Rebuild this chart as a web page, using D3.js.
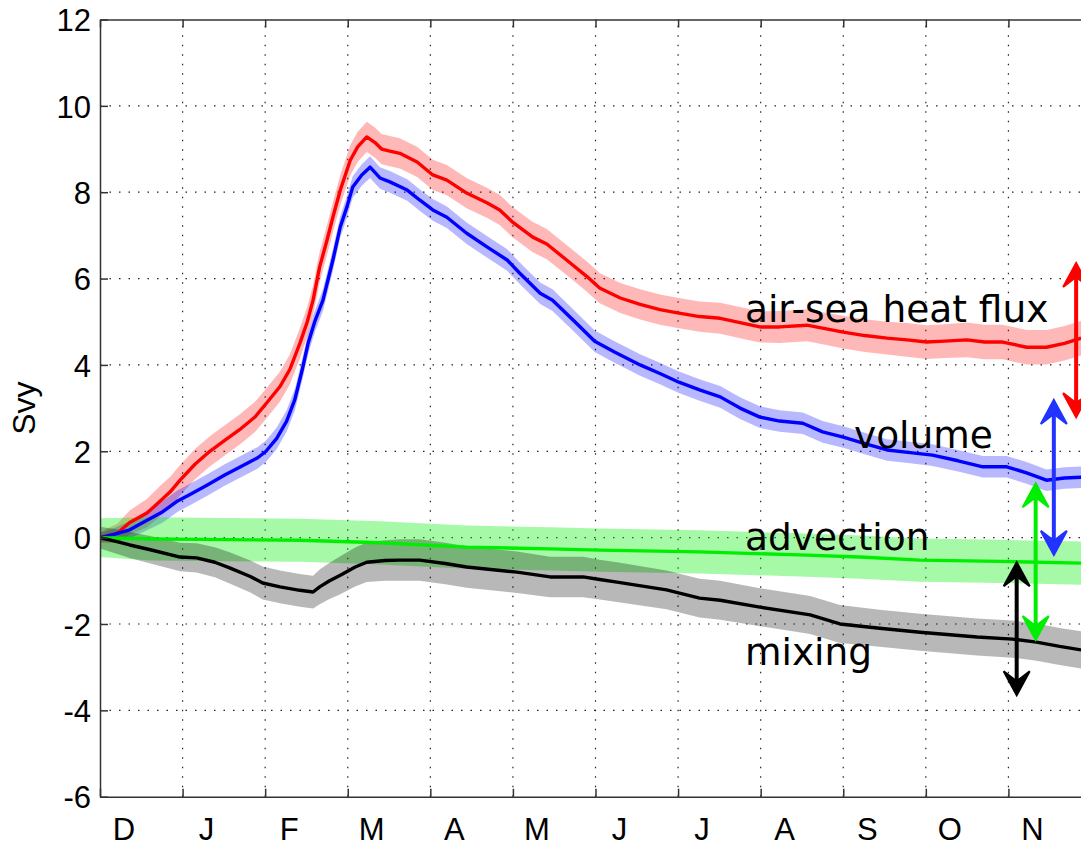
<!DOCTYPE html>
<html>
<head>
<meta charset="utf-8">
<script src="https://cdn.jsdelivr.net/npm/d3@7"></script>
<style>
  body { margin: 0; background: #fff; }
  svg { display: block; }
  .tick text { font-family: "Liberation Sans", Arial, sans-serif; font-size: 31px; fill: #000; }
</style>
</head>
<body>
<script>
var width = 1081;
var height = 847;

// month labels (ticks at the start of each month, x in months since 1 Dec)
var monthLabels = ["D", "J", "F", "M", "A", "M", "J", "J", "A", "S", "O", "N"];
var yTicks = [-6, -4, -2, 0, 2, 4, 6, 8, 10, 12];

// [month, value, half-width of shaded band]  (Svy)
var heatFlux = [
  [0, 0, 0.12], [0.1, 0.05, 0.18], [0.21, 0.1, 0.22], [0.36, 0.35, 0.28], [0.57, 0.57, 0.33],
  [0.73, 0.85, 0.35], [0.85, 1.06, 0.35], [0.97, 1.33, 0.35], [1.15, 1.7, 0.35], [1.33, 2.0, 0.35],
  [1.51, 2.25, 0.35], [1.69, 2.5, 0.35], [1.88, 2.8, 0.35], [2.01, 3.1, 0.35], [2.18, 3.5, 0.35],
  [2.3, 3.9, 0.35], [2.42, 4.5, 0.35], [2.51, 5.0, 0.35], [2.58, 5.5, 0.35], [2.66, 6.27, 0.35],
  [2.75, 6.9, 0.35], [2.82, 7.42, 0.35], [2.91, 8.05, 0.35], [3.03, 8.74, 0.35], [3.12, 9.05, 0.35],
  [3.23, 9.28, 0.35], [3.33, 9.15, 0.35], [3.41, 9.0, 0.35], [3.51, 8.95, 0.35], [3.63, 8.9, 0.35],
  [3.84, 8.7, 0.35], [4.03, 8.4, 0.35], [4.2, 8.28, 0.35], [4.44, 7.98, 0.35], [4.69, 7.75, 0.35],
  [4.84, 7.59, 0.35], [5.0, 7.3, 0.35], [5.24, 6.96, 0.35], [5.41, 6.8, 0.35], [5.65, 6.43, 0.35],
  [5.9, 6.04, 0.35], [6.05, 5.78, 0.35], [6.3, 5.55, 0.35], [6.54, 5.4, 0.35], [6.78, 5.28, 0.35],
  [7.01, 5.2, 0.35], [7.26, 5.12, 0.35], [7.51, 5.08, 0.36], [7.75, 4.98, 0.36], [7.99, 4.88, 0.36],
  [8.23, 4.88, 0.37], [8.56, 4.92, 0.37], [8.78, 4.84, 0.37], [9.0, 4.76, 0.38], [9.26, 4.68, 0.38],
  [9.53, 4.62, 0.38], [9.77, 4.58, 0.39], [10.01, 4.53, 0.39], [10.23, 4.55, 0.39], [10.5, 4.58, 0.4],
  [10.71, 4.53, 0.4], [10.93, 4.53, 0.4], [11.22, 4.41, 0.4], [11.46, 4.41, 0.4], [11.68, 4.5, 0.4],
  [11.88, 4.62, 0.4]
];

var volume = [
  [0, 0, 0.1], [0.18, 0.08, 0.15], [0.36, 0.18, 0.2], [0.57, 0.4, 0.23], [0.76, 0.6, 0.25],
  [0.94, 0.85, 0.25], [1.09, 1.0, 0.25], [1.3, 1.22, 0.25], [1.51, 1.45, 0.25], [1.76, 1.7, 0.25],
  [1.91, 1.85, 0.25], [2.01, 2.0, 0.25], [2.14, 2.3, 0.25], [2.26, 2.7, 0.25], [2.36, 3.2, 0.25],
  [2.45, 3.9, 0.25], [2.52, 4.5, 0.25], [2.6, 5.0, 0.25], [2.7, 5.5, 0.25], [2.82, 6.43, 0.25],
  [2.91, 7.2, 0.25], [2.99, 7.66, 0.25], [3.06, 8.12, 0.25], [3.17, 8.4, 0.25], [3.27, 8.58, 0.25],
  [3.39, 8.33, 0.25], [3.51, 8.24, 0.25], [3.72, 8.05, 0.25], [3.87, 7.82, 0.25], [4.03, 7.59, 0.25],
  [4.2, 7.42, 0.25], [4.44, 7.05, 0.25], [4.69, 6.73, 0.25], [4.93, 6.43, 0.25], [5.08, 6.13, 0.25],
  [5.33, 5.66, 0.25], [5.48, 5.5, 0.25], [5.75, 5.0, 0.25], [5.99, 4.55, 0.25], [6.23, 4.3, 0.25],
  [6.54, 4.0, 0.25], [6.78, 3.8, 0.25], [7.01, 3.6, 0.25], [7.26, 3.42, 0.25], [7.51, 3.26, 0.25],
  [7.75, 3.0, 0.25], [7.99, 2.79, 0.25], [8.23, 2.7, 0.25], [8.51, 2.65, 0.25], [8.75, 2.45, 0.25],
  [9.0, 2.33, 0.25], [9.26, 2.18, 0.25], [9.53, 2.03, 0.25], [9.81, 1.97, 0.25], [10.08, 1.91, 0.25],
  [10.39, 1.78, 0.25], [10.69, 1.64, 0.25], [10.98, 1.64, 0.25], [11.22, 1.5, 0.25], [11.46, 1.33, 0.25],
  [11.68, 1.38, 0.25], [11.88, 1.4, 0.25]
];

var advection = [
  [0, 0, 0.45], [0.61, -0.03, 0.5], [1.21, -0.04, 0.5], [2.42, -0.06, 0.5], [3.39, -0.12, 0.5],
  [4.44, -0.22, 0.5], [5.45, -0.26, 0.5], [6.05, -0.29, 0.5], [7.26, -0.33, 0.5], [8.47, -0.4, 0.5],
  [9.2, -0.45, 0.5], [9.93, -0.52, 0.5], [10.9, -0.55, 0.5], [11.88, -0.59, 0.5]
];

var mixing = [
  [0, 0, 0.25], [0.18, -0.08, 0.28], [0.36, -0.17, 0.3], [0.61, -0.28, 0.32], [0.97, -0.45, 0.33],
  [1.17, -0.47, 0.34], [1.39, -0.57, 0.35], [1.57, -0.7, 0.36], [1.82, -0.9, 0.37], [1.97, -1.05, 0.38],
  [2.18, -1.14, 0.38], [2.42, -1.22, 0.38], [2.58, -1.26, 0.38], [2.66, -1.14, 0.4], [2.78, -1.0, 0.42],
  [2.91, -0.87, 0.44], [3.09, -0.68, 0.45], [3.23, -0.57, 0.46], [3.45, -0.53, 0.47], [3.63, -0.52, 0.48],
  [3.87, -0.52, 0.48], [4.18, -0.6, 0.48], [4.44, -0.68, 0.48], [5.05, -0.8, 0.48], [5.45, -0.91, 0.47],
  [5.85, -0.91, 0.47], [6.05, -0.97, 0.46], [6.26, -1.03, 0.46], [6.86, -1.21, 0.45], [7.26, -1.4, 0.45],
  [7.51, -1.45, 0.45], [7.99, -1.61, 0.44], [8.6, -1.79, 0.44], [8.96, -2.0, 0.44], [9.44, -2.1, 0.43],
  [9.93, -2.19, 0.43], [10.62, -2.3, 0.43], [11.05, -2.35, 0.43], [11.34, -2.42, 0.43], [11.62, -2.52, 0.43],
  [11.88, -2.6, 0.43]
];

// double arrows: [month, low, high]
var arrowHeat = [11.82, 2.79, 6.36];
var arrowVolume = [11.55, -0.40, 3.19];
var arrowAdvection = [11.33, -2.37, 1.26];
var arrowMixing = [11.10, -3.65, -0.57];

// annotation labels: [text, month, value]
var labels = [
  ["air-sea heat flux", 7.81, 5.0],
  ["volume", 9.13, 2.07],
  ["advection", 7.81, -0.29],
  ["mixing", 7.81, -2.95]
];

var margin = { left: 100, top: 19.5, bottom: 50.3 };
var plotRight = 1091;

var x = d3.scaleLinear().domain([0, 12]).range([margin.left, plotRight]);
var y = d3.scaleLinear().domain([-6, 12]).range([height - margin.bottom, margin.top]);

var svg = d3.select("body").append("svg")
  .attr("width", width).attr("height", height);

svg.append("defs").append("clipPath").attr("id", "plotclip")
  .append("rect")
  .attr("x", x(0)).attr("y", y(12))
  .attr("width", x(12) - x(0)).attr("height", y(-6) - y(12));

// grid
var grid = svg.append("g").attr("class", "grid");
grid.selectAll(".hgrid").data(yTicks.filter(function (d) { return d > -6 && d < 12; }))
  .enter().append("line")
  .attr("x1", x(0)).attr("x2", x(12))
  .attr("y1", function (d) { return y(d); }).attr("y2", function (d) { return y(d); })
  .style("stroke", "#222").style("stroke-width", 1.2).style("stroke-dasharray", "1.5,8");
grid.selectAll(".vgrid").data(d3.range(1, 12))
  .enter().append("line")
  .attr("y1", y(-6)).attr("y2", y(12))
  .attr("x1", function (d) { return x(d); }).attr("x2", function (d) { return x(d); })
  .style("stroke", "#222").style("stroke-width", 1.2).style("stroke-dasharray", "1.5,8");

var plot = svg.append("g").attr("clip-path", "url(#plotclip)");

var series = [
  { data: heatFlux, color: "#ff0000", band: "#ff0000", op: 0.28 },
  { data: volume, color: "#0000ff", band: "#0000ff", op: 0.28 },
  { data: advection, color: "#00ee00", band: "#00ee00", op: 0.35 },
  { data: mixing, color: "#000000", band: "#000000", op: 0.28 }
];

var area = d3.area()
  .x(function (d) { return x(d[0]); })
  .y0(function (d) { return y(d[1] - d[2]); })
  .y1(function (d) { return y(d[1] + d[2]); });

var line = d3.line()
  .x(function (d) { return x(d[0]); })
  .y(function (d) { return y(d[1]); });

series.forEach(function (s) {
  plot.append("path")
    .attr("d", area(s.data))
    .style("fill", s.band)
    .style("fill-opacity", s.op)
    .style("stroke", "none");
});

series.forEach(function (s) {
  plot.append("path")
    .attr("d", line(s.data))
    .style("fill", "none")
    .style("stroke", s.color)
    .style("stroke-width", 3.4)
    .style("stroke-linejoin", "round");
});

// axes
var yAxis = d3.axisLeft(y).tickValues(yTicks)
  .tickSizeInner(-8).tickSizeOuter(0).tickPadding(9)
  .tickFormat(function (d) { return String(d); });
svg.append("g").attr("transform", "translate(" + x(0) + ",0)").call(yAxis)
  .call(function (g) {
    g.select(".domain").style("stroke", "#333").style("stroke-width", 1.5);
    g.selectAll(".tick line").style("stroke", "#333").style("stroke-width", 1.5);
    g.selectAll(".tick text").attr("dy", "0.36em");
  });

var xAxis = d3.axisBottom(x).tickValues(d3.range(0, 12))
  .tickSizeInner(-8).tickSizeOuter(0).tickPadding(21)
  .tickFormat(function (d) { return monthLabels[d]; });
svg.append("g").attr("transform", "translate(0," + y(-6) + ")").call(xAxis)
  .call(function (g) {
    g.select(".domain").style("stroke", "#333").style("stroke-width", 1.5);
    g.selectAll(".tick line").style("stroke", "#333").style("stroke-width", 1.5);
    g.selectAll(".tick text").attr("dx", x(0.285) - x(0));
  });

// top border with inward ticks
var xTop = d3.axisTop(x).tickValues(d3.range(0, 12))
  .tickSizeInner(-8).tickSizeOuter(0).tickFormat("");
svg.append("g").attr("transform", "translate(0," + y(12) + ")").call(xTop)
  .call(function (g) {
    g.select(".domain").style("stroke", "#333").style("stroke-width", 1.5);
    g.selectAll(".tick line").style("stroke", "#333").style("stroke-width", 1.5);
  });

// y label
svg.append("text")
  .attr("transform", "translate(35," + ((y(-6) + y(12)) / 2) + ") rotate(-90)")
  .attr("text-anchor", "middle")
  .style("font-family", "Liberation Sans, Arial, sans-serif")
  .style("font-size", "32px")
  .text("Svy");

// annotation labels
svg.selectAll(".lbl").data(labels).enter().append("text")
  .attr("x", function (d) { return x(d[1]); })
  .attr("y", function (d) { return y(d[2]); })
  .style("font-family", "DejaVu Sans, sans-serif")
  .style("font-size", "37.5px")
  .style("fill", "#000")
  .text(function (d) { return d[0]; });

// double arrows
var arrows = [
  { a: arrowHeat, color: "#ff0000" },
  { a: arrowVolume, color: "#2233ff" },
  { a: arrowAdvection, color: "#00ee00" },
  { a: arrowMixing, color: "#000000" }
];

function headPath(px, py, dir) {
  // dir = -1 points up, +1 points down
  var L = 24, W = 13, N = 14;
  return "M" + px + "," + py +
    "L" + (px + W) + "," + (py - dir * L) +
    "L" + px + "," + (py - dir * N) +
    "L" + (px - W) + "," + (py - dir * L) + "Z";
}

var arrowG = svg.append("g");
arrows.forEach(function (d) {
  var ax = x(d.a[0]);
  var yLo = y(d.a[1]);
  var yHi = y(d.a[2]);
  arrowG.append("line")
    .attr("x1", ax).attr("x2", ax)
    .attr("y1", yHi + 12).attr("y2", yLo - 12)
    .style("stroke", d.color).style("stroke-width", 4);
  arrowG.append("path").attr("d", headPath(ax, yHi, -1))
    .style("fill", d.color).style("stroke", d.color).style("stroke-width", 2)
    .style("stroke-linejoin", "miter");
  arrowG.append("path").attr("d", headPath(ax, yLo, 1))
    .style("fill", d.color).style("stroke", d.color).style("stroke-width", 2)
    .style("stroke-linejoin", "miter");
});
</script>
</body>
</html>
